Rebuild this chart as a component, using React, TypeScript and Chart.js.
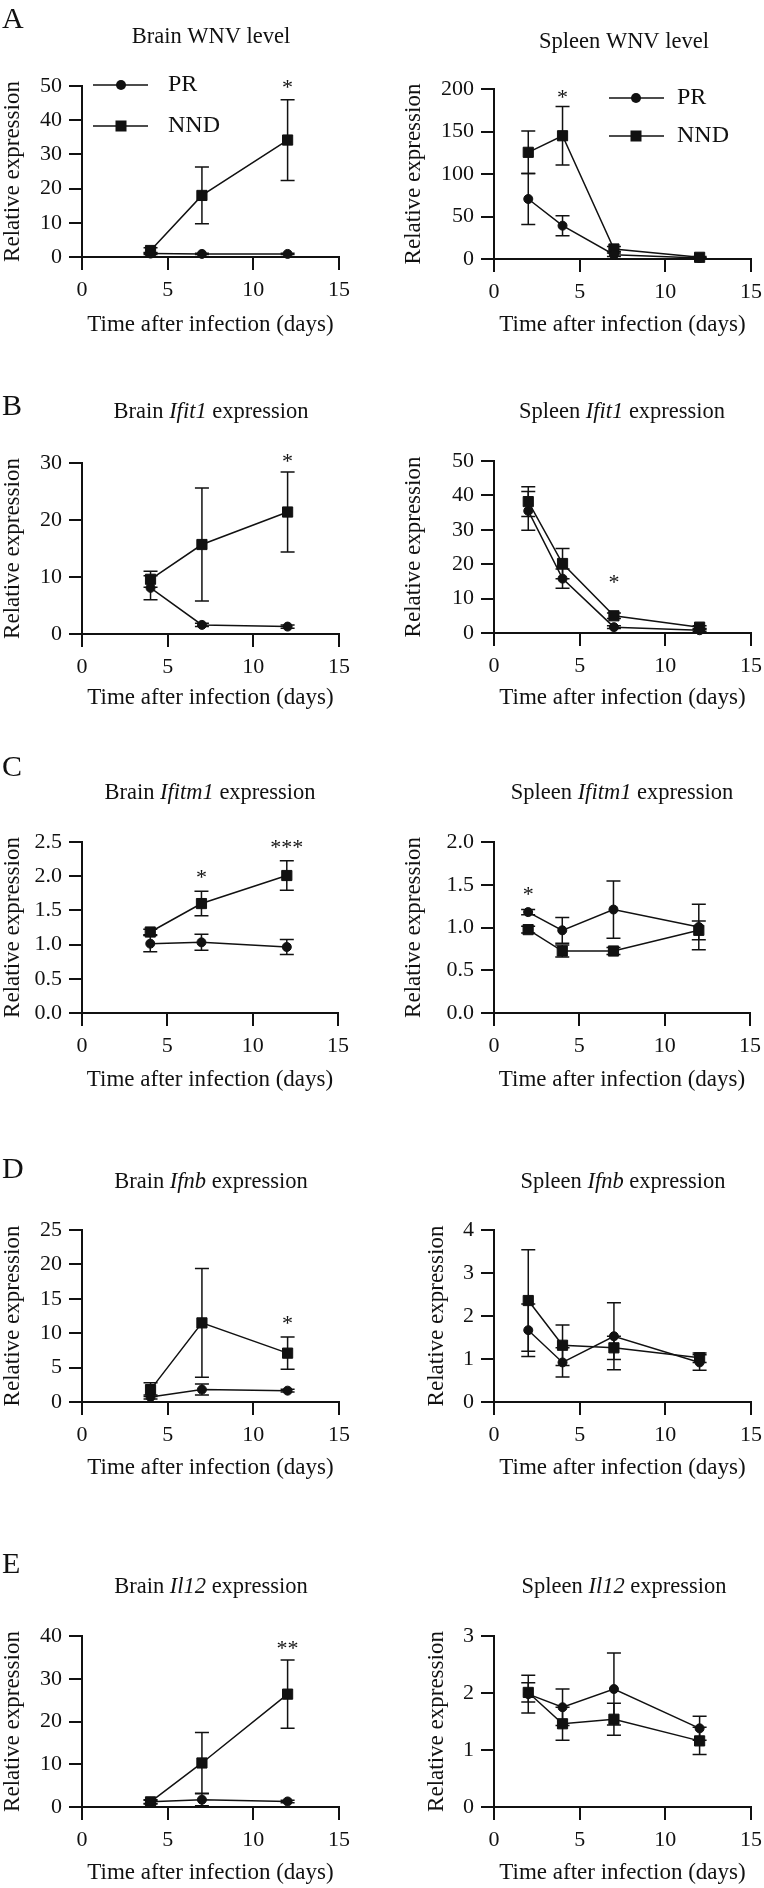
import React, { useEffect, useRef } from "react";
import { Chart, registerables } from "chart.js";

Chart.register(...registerables);

const SERIF = '"Liberation Serif", "Times New Roman", Times, serif';
const INK = "#111111";

// ---------- shared axis data ----------
const brainDays = [4, 7, 12];
const spleenDays = [2, 4, 7, 12];
const xAxisMin = 0;
const xAxisMax = 15;
const xAxisStep = 5;
const seriesNames = ["PR", "NND"];
const xAxisTitle = "Time after infection (days)";
const yAxisTitle = "Relative expression";
const panelLetters = ["A", "B", "C", "D", "E"];

// ---------- A: WNV level ----------
const brainWnvPR = [1.0, 0.9, 0.9];
const brainWnvPRErr = [0.3, 0.2, 0.2];
const brainWnvNND = [1.9, 18.0, 34.2];
const brainWnvNNDErr = [0.8, 8.3, 11.8];
const spleenWnvPR = [70.6, 39.2, 5.0, 1.2];
const spleenWnvPRErr = [30, 11.8, 2, 0.5];
const spleenWnvNND = [125.5, 145, 11.8, 2.0];
const spleenWnvNNDErr = [25, 34.5, 3, 0.8];

// ---------- B: Ifit1 ----------
const brainIfit1PR = [8.1, 1.6, 1.3];
const brainIfit1PRErr = [2.1, 0.3, 0.3];
const brainIfit1NND = [9.6, 15.7, 21.4];
const brainIfit1NNDErr = [1.4, 9.9, 7.0];
const spleenIfit1PR = [35.5, 15.8, 1.7, 0.8];
const spleenIfit1PRErr = [5.6, 2.8, 0.4, 0.3];
const spleenIfit1NND = [38.2, 20.2, 5.0, 1.7];
const spleenIfit1NNDErr = [4.3, 4.4, 0.8, 0.4];

// ---------- C: Ifitm1 ----------
const brainIfitm1PR = [1.014, 1.033, 0.965];
const brainIfitm1PRErr = [0.12, 0.117, 0.11];
const brainIfitm1NND = [1.184, 1.6, 2.01];
const brainIfitm1NNDErr = [0.04, 0.18, 0.215];
const spleenIfitm1PR = [1.18, 0.967, 1.21, 1.006];
const spleenIfitm1PRErr = [0.03, 0.15, 0.335, 0.265];
const spleenIfitm1NND = [0.975, 0.725, 0.725, 0.967];
const spleenIfitm1NNDErr = [0.04, 0.07, 0.04, 0.11];

// ---------- D: Ifnb ----------
const brainIfnbPR = [0.73, 1.8, 1.65];
const brainIfnbPRErr = [0.3, 0.8, 0.2];
const brainIfnbNND = [1.8, 11.5, 7.1];
const brainIfnbNNDErr = [1.0, 7.9, 2.35];
const spleenIfnbPR = [1.67, 0.92, 1.53, 0.92];
const spleenIfnbPRErr = [0.61, 0.34, 0.78, 0.18];
const spleenIfnbNND = [2.36, 1.32, 1.26, 1.03];
const spleenIfnbNNDErr = [1.18, 0.47, 0.27, 0.11];

// ---------- E: Il12 ----------
const brainIl12PR = [1.2, 1.7, 1.3];
const brainIl12PRErr = [0.4, 1.4, 0.3];
const brainIl12NND = [1.2, 10.3, 26.4];
const brainIl12NNDErr = [0.5, 7.1, 8.0];
const spleenIl12PR = [1.98, 1.75, 2.07, 1.38];
const spleenIl12PRErr = [0.33, 0.32, 0.63, 0.21];
const spleenIl12NND = [2.01, 1.46, 1.54, 1.16];
const spleenIl12NNDErr = [0.17, 0.29, 0.28, 0.24];

// ---------- y axis ranges ----------
const yMaxes = [50, 200, 30, 50, 2.5, 2.0, 25, 4, 40, 3];
const ySteps = [10, 50, 10, 10, 0.5, 0.5, 5, 1, 10, 1];
const yDecimals = [0, 0, 0, 0, 1, 1, 0, 0, 0, 0];

// ---------- significance marks ----------
const starPanels = [0, 1, 2, 3, 4, 4, 5, 6, 8];
const starX = [12, 4, 12, 7, 7, 12, 2, 12, 12];
const starY = [50.8, 194, 30.9, 15.8, 2.04, 2.48, 1.435, 11.9, 37.9];
const starText = ["*", "*", "*", "*", "*", "***", "*", "*", "**"];

type Seg = { t: string; i?: boolean };

const panelTitles: Seg[][] = [
  [{ t: "Brain WNV level" }],
  [{ t: "Spleen WNV level" }],
  [{ t: "Brain " }, { t: "Ifit1", i: true }, { t: " expression" }],
  [{ t: "Spleen " }, { t: "Ifit1", i: true }, { t: " expression" }],
  [{ t: "Brain " }, { t: "Ifitm1", i: true }, { t: " expression" }],
  [{ t: "Spleen " }, { t: "Ifitm1", i: true }, { t: " expression" }],
  [{ t: "Brain " }, { t: "Ifnb", i: true }, { t: " expression" }],
  [{ t: "Spleen " }, { t: "Ifnb", i: true }, { t: " expression" }],
  [{ t: "Brain " }, { t: "Il12", i: true }, { t: " expression" }],
  [{ t: "Spleen " }, { t: "Il12", i: true }, { t: " expression" }],
];

const panelSeries = [
  { days: brainDays, pr: brainWnvPR, prErr: brainWnvPRErr, nnd: brainWnvNND, nndErr: brainWnvNNDErr },
  { days: spleenDays, pr: spleenWnvPR, prErr: spleenWnvPRErr, nnd: spleenWnvNND, nndErr: spleenWnvNNDErr },
  { days: brainDays, pr: brainIfit1PR, prErr: brainIfit1PRErr, nnd: brainIfit1NND, nndErr: brainIfit1NNDErr },
  { days: spleenDays, pr: spleenIfit1PR, prErr: spleenIfit1PRErr, nnd: spleenIfit1NND, nndErr: spleenIfit1NNDErr },
  { days: brainDays, pr: brainIfitm1PR, prErr: brainIfitm1PRErr, nnd: brainIfitm1NND, nndErr: brainIfitm1NNDErr },
  { days: spleenDays, pr: spleenIfitm1PR, prErr: spleenIfitm1PRErr, nnd: spleenIfitm1NND, nndErr: spleenIfitm1NNDErr },
  { days: brainDays, pr: brainIfnbPR, prErr: brainIfnbPRErr, nnd: brainIfnbNND, nndErr: brainIfnbNNDErr },
  { days: spleenDays, pr: spleenIfnbPR, prErr: spleenIfnbPRErr, nnd: spleenIfnbNND, nndErr: spleenIfnbNNDErr },
  { days: brainDays, pr: brainIl12PR, prErr: brainIl12PRErr, nnd: brainIl12NND, nndErr: brainIl12NNDErr },
  { days: spleenDays, pr: spleenIl12PR, prErr: spleenIl12PRErr, nnd: spleenIl12NND, nndErr: spleenIl12NNDErr },
];

// ---------- layout (page pixel positions) ----------
const COL_W = 382;
const rowTops = [0, 360, 740, 1120, 1510];
const rowBottoms = [350, 725, 1110, 1500, 1888];
const letterBase = [28, 415, 776, 1178, 1573];

type Lay = {
  col: number; row: number;
  L: number; T: number; R: number; B: number;
  yTitleX: number; xTitleY: number;
  titleX: number; titleBase: number;
  legend?: { x1: number; x2: number; xm: number; ys: number[]; textX: number };
};

const layouts: Lay[] = [
  { col: 0, row: 0, L: 82, T: 86, R: 339, B: 257, yTitleX: 13, xTitleY: 325, titleX: 211, titleBase: 43,
    legend: { x1: 93, x2: 148, xm: 121, ys: [85, 126], textX: 168 } },
  { col: 1, row: 0, L: 494, T: 89, R: 751, B: 259, yTitleX: 414, xTitleY: 325, titleX: 624, titleBase: 48,
    legend: { x1: 609, x2: 664, xm: 636, ys: [98, 136], textX: 677 } },
  { col: 0, row: 1, L: 82, T: 463, R: 339, B: 634, yTitleX: 13, xTitleY: 698, titleX: 211, titleBase: 418 },
  { col: 1, row: 1, L: 494, T: 461, R: 751, B: 633, yTitleX: 414, xTitleY: 698, titleX: 622, titleBase: 418 },
  { col: 0, row: 2, L: 82, T: 842, R: 338, B: 1013, yTitleX: 13, xTitleY: 1080, titleX: 210, titleBase: 799 },
  { col: 1, row: 2, L: 494, T: 842, R: 750, B: 1013, yTitleX: 414, xTitleY: 1080, titleX: 622, titleBase: 799 },
  { col: 0, row: 3, L: 82, T: 1230, R: 339, B: 1402, yTitleX: 13, xTitleY: 1468, titleX: 211, titleBase: 1188 },
  { col: 1, row: 3, L: 494, T: 1230, R: 751, B: 1402, yTitleX: 437, xTitleY: 1468, titleX: 623, titleBase: 1188 },
  { col: 0, row: 4, L: 82, T: 1636, R: 339, B: 1807, yTitleX: 13, xTitleY: 1873, titleX: 211, titleBase: 1593 },
  { col: 1, row: 4, L: 494, T: 1636, R: 751, B: 1807, yTitleX: 437, xTitleY: 1873, titleX: 624, titleBase: 1593 },
];

const TICK_SIZE = 22;
const AXIS_TITLE_SIZE = 23;
const TITLE_SIZE = 22.5;
const LEGEND_SIZE = 24;
const LETTER_SIZE = 30;
const STAR_SIZE = 22;

function drawMarker(ctx: CanvasRenderingContext2D, style: string, x: number, y: number) {
  ctx.beginPath();
  if (style === "circle") {
    ctx.arc(x, y, 5, 0, Math.PI * 2);
    ctx.fill();
  } else {
    ctx.fillRect(x - 5.5, y - 5.5, 11, 11);
  }
}

function Panel({ idx }: { idx: number }) {
  const ref = useRef<HTMLCanvasElement>(null);
  const lay = layouts[idx];
  const colX = lay.col * COL_W;
  const top = rowTops[lay.row];
  const bottom = rowBottoms[lay.row];
  const w = COL_W;
  const h = bottom - top;

  useEffect(() => {
    const canvas = ref.current;
    if (!canvas) return;
    const s = panelSeries[idx];
    const half = AXIS_TITLE_SIZE / 2;
    const padLeft = lay.yTitleX - colX - half;
    const yW = lay.L - colX - padLeft;
    const xH = bottom - lay.B;
    const xTitlePadB = bottom - lay.xTitleY - half;

    const errorBars = {
      id: "errorBars",
      beforeDatasetsDraw(chart: any) {
        const ctx = chart.ctx;
        const xs = chart.scales.x;
        const ys = chart.scales.y;
        ctx.save();
        ctx.strokeStyle = INK;
        ctx.lineWidth = 1.5;
        chart.data.datasets.forEach((ds: any) => {
          const errs: number[] = ds.errors || [];
          ds.data.forEach((p: any, i: number) => {
            const e = errs[i];
            if (!e) return;
            const px = xs.getPixelForValue(p.x);
            const yHi = ys.getPixelForValue(p.y + e);
            const yLo = ys.getPixelForValue(Math.max(p.y - e, 0));
            ctx.beginPath();
            ctx.moveTo(px, yHi);
            ctx.lineTo(px, yLo);
            ctx.moveTo(px - 7, yHi);
            ctx.lineTo(px + 7, yHi);
            ctx.moveTo(px - 7, yLo);
            ctx.lineTo(px + 7, yLo);
            ctx.stroke();
          });
        });
        ctx.restore();
      },
    };

    const stars = {
      id: "stars",
      afterDatasetsDraw(chart: any) {
        const ctx = chart.ctx;
        const xs = chart.scales.x;
        const ys = chart.scales.y;
        ctx.save();
        ctx.fillStyle = INK;
        ctx.font = `${STAR_SIZE}px ${SERIF}`;
        ctx.textAlign = "center";
        ctx.textBaseline = "alphabetic";
        starPanels.forEach((pi, k) => {
          if (pi !== idx) return;
          const px = xs.getPixelForValue(starX[k]);
          const py = ys.getPixelForValue(starY[k]);
          ctx.fillText(starText[k], px, py + STAR_SIZE * 0.47);
        });
        ctx.restore();
      },
    };

    const deco = {
      id: "deco",
      afterDraw(chart: any) {
        const ctx: CanvasRenderingContext2D = chart.ctx;
        ctx.save();
        ctx.fillStyle = INK;
        ctx.textBaseline = "alphabetic";
        ctx.textAlign = "left";
        const segs = panelTitles[idx];
        let total = 0;
        const widths = segs.map((sg) => {
          ctx.font = `${sg.i ? "italic " : ""}${TITLE_SIZE}px ${SERIF}`;
          const ww = ctx.measureText(sg.t).width;
          total += ww;
          return ww;
        });
        let x = lay.titleX - colX - total / 2;
        segs.forEach((sg, k) => {
          ctx.font = `${sg.i ? "italic " : ""}${TITLE_SIZE}px ${SERIF}`;
          ctx.fillText(sg.t, x, lay.titleBase - top);
          x += widths[k];
        });
        if (lay.col === 0) {
          ctx.font = `${LETTER_SIZE}px ${SERIF}`;
          ctx.fillText(panelLetters[lay.row], 2, letterBase[lay.row] - top);
        }
        if (lay.legend) {
          const lg = lay.legend;
          const styles = ["circle", "rect"];
          ctx.strokeStyle = INK;
          ctx.lineWidth = 1.5;
          seriesNames.forEach((name, k) => {
            const yy = lg.ys[k] - top;
            ctx.beginPath();
            ctx.moveTo(lg.x1 - colX, yy);
            ctx.lineTo(lg.x2 - colX, yy);
            ctx.stroke();
            drawMarker(ctx, styles[k], lg.xm - colX, yy);
            ctx.font = `${LEGEND_SIZE}px ${SERIF}`;
            ctx.textBaseline = "middle";
            ctx.fillText(name, lg.textX - colX, yy);
            ctx.textBaseline = "alphabetic";
          });
        }
        ctx.restore();
      },
    };

    const tickFont = { family: SERIF, size: TICK_SIZE };
    const titleFont = { family: SERIF, size: AXIS_TITLE_SIZE, lineHeight: 1 };
    const dec = yDecimals[idx];

    const chart = new Chart(canvas, {
      type: "line",
      data: {
        datasets: [
          {
            label: seriesNames[0],
            data: s.days.map((d, i) => ({ x: d, y: s.pr[i] })),
            errors: s.prErr,
            borderColor: INK,
            backgroundColor: INK,
            borderWidth: 1.5,
            pointStyle: "circle",
            pointRadius: 4.5,
            pointBorderWidth: 1,
            pointBackgroundColor: INK,
            pointBorderColor: INK,
            tension: 0,
            clip: false,
          } as any,
          {
            label: seriesNames[1],
            data: s.days.map((d, i) => ({ x: d, y: s.nnd[i] })),
            errors: s.nndErr,
            borderColor: INK,
            backgroundColor: INK,
            borderWidth: 1.5,
            pointStyle: "rect",
            pointRadius: 7.2,
            pointBorderWidth: 1,
            pointBackgroundColor: INK,
            pointBorderColor: INK,
            tension: 0,
            clip: false,
          } as any,
        ],
      },
      options: {
        responsive: false,
        animation: false,
        devicePixelRatio: 1,
        events: [],
        layout: {
          autoPadding: false,
          padding: { left: padLeft, top: lay.T - top, right: colX + COL_W - lay.R, bottom: 0 },
        },
        plugins: {
          legend: { display: false },
          tooltip: { enabled: false },
          title: { display: false },
        },
        scales: {
          x: {
            type: "linear",
            min: xAxisMin,
            max: xAxisMax,
            ticks: { stepSize: xAxisStep, font: tickFont, color: INK, padding: 7, maxRotation: 0, autoSkip: false },
            grid: { display: true, drawOnChartArea: false, drawTicks: true, tickLength: 13, color: INK, lineWidth: 2 },
            border: { display: true, color: INK, width: 2 },
            title: { display: true, text: xAxisTitle, font: titleFont, color: INK, padding: { top: 0, bottom: xTitlePadB } },
            afterFit: (sc: any) => {
              sc.height = xH;
              sc.paddingLeft = 0;
              sc.paddingRight = 0;
            },
          },
          y: {
            type: "linear",
            min: 0,
            max: yMaxes[idx],
            ticks: {
              stepSize: ySteps[idx],
              font: tickFont,
              color: INK,
              padding: 7,
              callback: (v: any) => Number(v).toFixed(dec),
            },
            grid: { display: true, drawOnChartArea: false, drawTicks: true, tickLength: 13, color: INK, lineWidth: 2 },
            border: { display: true, color: INK, width: 2 },
            title: { display: true, text: yAxisTitle, font: titleFont, color: INK, padding: { top: 0, bottom: 0 } },
            afterFit: (sc: any) => {
              sc.width = yW;
              sc.paddingTop = 0;
              sc.paddingBottom = 0;
            },
          },
        },
      } as any,
      plugins: [errorBars, stars, deco],
    });
    return () => chart.destroy();
  }, []);

  return (
    <canvas
      ref={ref}
      width={w}
      height={h}
      style={{ position: "absolute", left: colX, top, width: w, height: h }}
    />
  );
}

export default function App() {
  return (
    <div style={{ position: "absolute", left: 0, top: 0, width: 764, height: 1888, background: "#ffffff" }}>
      {layouts.map((_, i) => (
        <Panel key={i} idx={i} />
      ))}
    </div>
  );
}
